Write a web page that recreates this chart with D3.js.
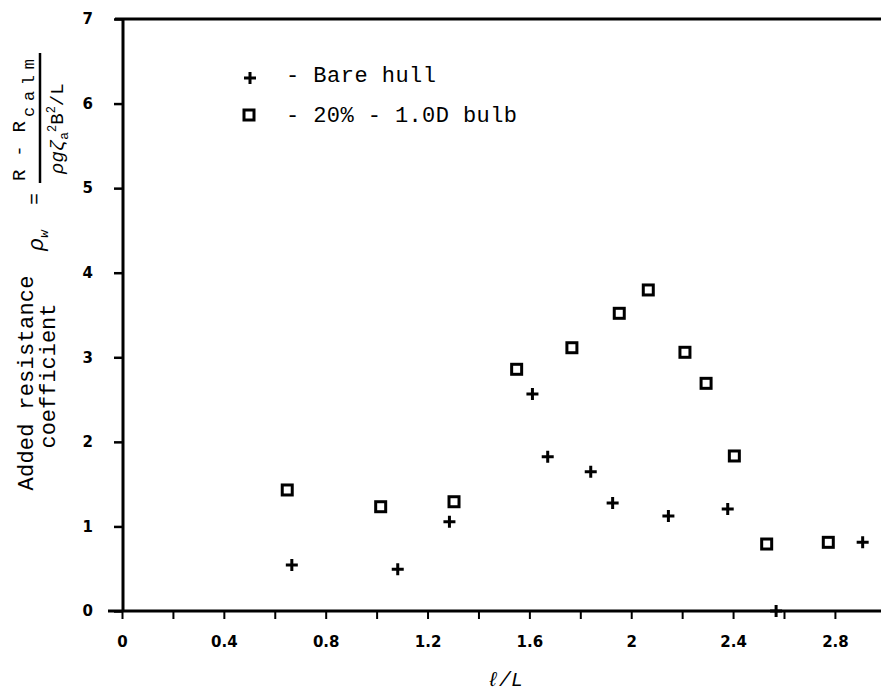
<!DOCTYPE html>
<html><head><meta charset="utf-8">
<script src="https://cdn.jsdelivr.net/npm/d3@7"></script>
<style>
html,body{margin:0;padding:0;background:#fff;}
svg{display:block;}
.mono{font-family:"Liberation Mono","DejaVu Sans Mono",monospace;fill:#000;}
.tick text{font-family:"DejaVu Sans",sans-serif;font-weight:bold;font-size:15px;fill:#000;}
</style></head>
<body>
<svg id="c" width="881" height="693"></svg>
<script>
const bareX = [0.667, 1.083, 1.286, 1.612, 1.672, 1.841, 1.927, 2.146, 2.379, 2.569, 2.909];
const bareY = [0.544, 0.493, 1.056, 2.566, 1.825, 1.647, 1.277, 1.123, 1.206, 0.0, 0.812];
const bulbX = [0.649, 1.016, 1.304, 1.550, 1.767, 1.953, 2.067, 2.211, 2.294, 2.405, 2.532, 2.774];
const bulbY = [1.431, 1.233, 1.292, 2.858, 3.113, 3.520, 3.796, 3.059, 2.692, 1.833, 0.792, 0.812];
const xTicks = [0, 0.2, 0.4, 0.6, 0.8, 1.0, 1.2, 1.4, 1.6, 1.8, 2.0, 2.2, 2.4, 2.6, 2.8];
const xTickLabels = ["0", "", "0.4", "", "0.8", "", "1.2", "", "1.6", "", "2", "", "2.4", "", "2.8"];
const yTicks = [0, 1, 2, 3, 4, 5, 6, 7];
const yTickLabels = ["0", "1", "2", "3", "4", "5", "6", "7"];
const legendLabels = ["- Bare hull", "- 20% - 1.0D bulb"];

const svg = d3.select("#c");
const x = d3.scaleLinear().domain([0, 2.981]).range([122, 881]);
const y = d3.scaleLinear().domain([0, 7]).range([611, 19]);

// axes
const xAxis = d3.axisBottom(x).tickValues(xTicks).tickSize(8).tickPadding(17)
  .tickFormat((d, i) => xTickLabels[i]);
const gx = svg.append("g").attr("transform", `translate(0,${y(0)})`).call(xAxis);
gx.select(".domain").remove();
gx.selectAll(".tick line").attr("stroke", "#000").attr("stroke-width", 2);

const yAxis = d3.axisLeft(y).tickValues(yTicks).tickSize(8).tickPadding(21)
  .tickFormat((d, i) => yTickLabels[i]);
const gy = svg.append("g").attr("transform", `translate(${x(0)},0)`).call(yAxis);
gy.select(".domain").remove();
gy.selectAll(".tick line").attr("stroke", "#000").attr("stroke-width", 2.5);

// frame lines
svg.append("line").attr("x1", x(0) - 14).attr("x2", x.range()[1]).attr("y1", y(0)).attr("y2", y(0))
  .attr("stroke", "#000").attr("stroke-width", 3);
svg.append("line").attr("x1", x(0) - 7).attr("x2", x.range()[1]).attr("y1", y(7)).attr("y2", y(7))
  .attr("stroke", "#000").attr("stroke-width", 3);
svg.append("line").attr("x1", x(0) + 1).attr("x2", x(0) + 1).attr("y1", y(7)).attr("y2", y(0))
  .attr("stroke", "#000").attr("stroke-width", 3);

// markers
const plusPath = "M-6,0H6M0,-6V6";
function drawPlus(sel) {
  sel.append("path").attr("d", plusPath).attr("stroke", "#000").attr("stroke-width", 3).attr("fill", "none");
}
function drawSquare(sel) {
  sel.append("rect").attr("x", -5).attr("y", -5).attr("width", 10).attr("height", 10)
    .attr("fill", "#fff").attr("stroke", "#000").attr("stroke-width", 3);
}
const bare = bareX.map((v, i) => ({x: v, y: bareY[i]}));
const bulb = bulbX.map((v, i) => ({x: v, y: bulbY[i]}));
svg.append("g").selectAll("g").data(bare).join("g")
  .attr("transform", d => `translate(${x(d.x)},${y(d.y)})`).each(function(){ drawPlus(d3.select(this)); });
svg.append("g").selectAll("g").data(bulb).join("g")
  .attr("transform", d => `translate(${x(d.x)},${y(d.y)})`).each(function(){ drawSquare(d3.select(this)); });

// legend
const lg = svg.append("g");
const l1 = lg.append("g").attr("transform", "translate(250,78)"); drawPlus(l1);
const l2 = lg.append("g").attr("transform", "translate(249,115)"); drawSquare(l2);
lg.append("text").attr("class", "mono").attr("x", 286).attr("y", 82).attr("font-size", 22)
  .attr("textLength", 150).text(legendLabels[0]);
lg.append("text").attr("class", "mono").attr("x", 286).attr("y", 122).attr("font-size", 22)
  .attr("textLength", 231).text(legendLabels[1]);

// x label
svg.append("text").attr("class", "mono").attr("x", 505).attr("y", 686).attr("text-anchor", "middle")
  .attr("font-size", 20).attr("font-style", "italic").text("ℓ/L");

// y label lines
svg.append("text").attr("class", "mono").attr("transform", "translate(33,383) rotate(-90)")
  .attr("text-anchor", "middle").attr("font-size", 22).attr("textLength", 215).text("Added resistance");
svg.append("text").attr("class", "mono").attr("transform", "translate(55,376) rotate(-90)")
  .attr("text-anchor", "middle").attr("font-size", 22).attr("textLength", 145).text("coefficient");

// formula
const f = svg.append("g").attr("transform", "translate(40,183) rotate(-90)");
const rho = f.append("text").attr("class", "mono").attr("x", -68).attr("y", 3).attr("font-size", 22)
  .attr("font-style", "italic");
rho.append("tspan").text("ρ");
rho.append("tspan").attr("dy", 5).attr("font-size", 13).text("w");
f.append("text").attr("class", "mono").attr("x", -22).attr("y", 1).attr("font-size", 20).text("=");
f.append("text").attr("class", "mono").attr("x", 2).attr("y", -15).attr("font-size", 19)
  .attr("textLength", 60).text("R - R");
f.append("text").attr("class", "mono").attr("x", 66).attr("y", -6).attr("font-size", 17)
  .attr("textLength", 58).text("calm");
f.append("line").attr("x1", 0).attr("x2", 130).attr("y1", 0).attr("y2", 0)
  .attr("stroke", "#000").attr("stroke-width", 2.5);
const den = f.append("text").attr("class", "mono").attr("x", 9).attr("y", 23).attr("font-size", 19);
den.append("tspan").attr("font-style", "italic").text("ρgζ");
den.append("tspan").attr("dy", 5).attr("font-size", 13).text("a");
den.append("tspan").attr("dy", -12).attr("font-size", 12).text("2");
den.append("tspan").attr("dy", 7).attr("font-size", 19).text("B");
den.append("tspan").attr("dy", -8).attr("font-size", 12).text("2");
den.append("tspan").attr("dy", 8).attr("font-size", 19).text("/L");
</script>
</body></html>
